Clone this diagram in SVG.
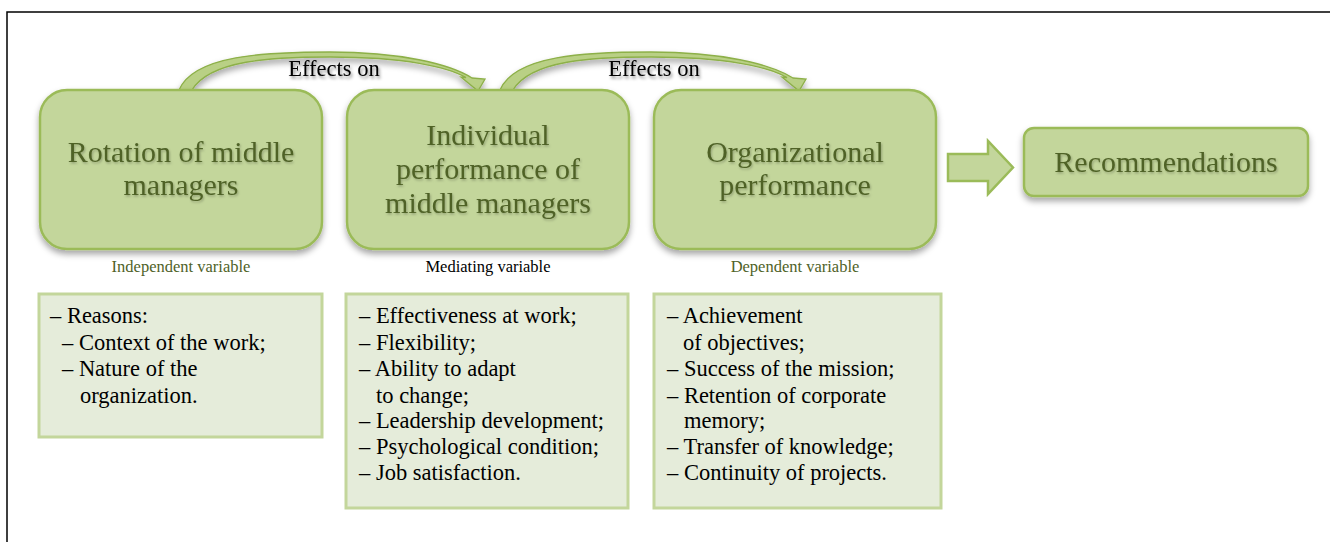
<svg xmlns="http://www.w3.org/2000/svg" width="1330" height="542" viewBox="0 0 1330 542">
<defs>
<filter id="sh" x="-10%" y="-10%" width="120%" height="130%">
<feDropShadow dx="0" dy="4" stdDeviation="3" flood-color="#000" flood-opacity="0.35"/>
</filter>
<filter id="tsh" x="-10%" y="-30%" width="120%" height="170%">
<feDropShadow dx="1.5" dy="2.5" stdDeviation="1.6" flood-color="#000" flood-opacity="0.45"/>
</filter>
<filter id="tsh2" x="-10%" y="-30%" width="120%" height="170%">
<feDropShadow dx="1" dy="1.5" stdDeviation="1" flood-color="#000" flood-opacity="0.25"/>
</filter>
</defs>
<style>
.frame{fill:none;stroke:#000;stroke-width:1.5}
.node{fill:#c3d69b;stroke:#9bbb59;stroke-width:2.5}
.list{fill:#e5ecda;stroke:#c3d69b;stroke-width:3}
.title{font-family:"Liberation Serif","Times New Roman",serif;font-size:30px;fill:#4f6228;text-anchor:middle}
.lbl{font-family:"Liberation Serif","Times New Roman",serif;font-size:16.5px;text-anchor:middle}
.green{fill:#4f6228}
.eff{font-family:"Liberation Serif","Times New Roman",serif;font-size:22.5px;fill:#000;text-anchor:middle}
.item{font-family:"Liberation Serif","Times New Roman",serif;font-size:22.5px;fill:#000}
.carrow{fill:#b9d085;stroke:#8db048;stroke-width:1.3}
.barrow{fill:#c3d69b;stroke:#9bbb59;stroke-width:2.5}
</style>
<rect x="0" y="0" width="1330" height="542" fill="#fff"/>
<rect class="frame" x="7" y="12" width="1400" height="600"/>

<g id="connectors">
<path class="carrow" filter="url(#sh)" d="M179,90 C194,55 265,52 330,52 C400,52 450,64 472,78 L485,79 L478,91 L461,77 L466,77.5 C448,67 405,57 330,57 C272,57 210,60 192,90 Z"/>
<path class="carrow" filter="url(#sh)" transform="translate(321,0)" d="M179,90 C194,55 265,52 330,52 C400,52 450,64 472,78 L485,79 L478,91 L461,77 L466,77.5 C448,67 405,57 330,57 C272,57 210,60 192,90 Z"/>
<text class="eff" x="334" y="76" filter="url(#tsh)">Effects on</text>
<text class="eff" x="654" y="76" filter="url(#tsh)">Effects on</text>
<path class="barrow" d="M948,154 L988,154 L988,141 L1013,167.5 L988,194 L988,181 L948,181 Z"/>
</g>

<g id="node-rotation">
<rect class="node" filter="url(#sh)" x="40" y="90" width="282" height="159" rx="27"/>
<text class="title" filter="url(#tsh2)"><tspan x="181" y="162">Rotation of middle</tspan><tspan x="181" y="195">managers</tspan></text>
<text class="lbl green" x="181" y="272">Independent variable</text>
</g>

<g id="node-individual">
<rect class="node" filter="url(#sh)" x="347" y="90" width="282" height="159" rx="27"/>
<text class="title" filter="url(#tsh2)"><tspan x="488" y="145">Individual</tspan><tspan x="488" y="179">performance of</tspan><tspan x="488" y="213">middle managers</tspan></text>
<text class="lbl" x="488" y="272">Mediating variable</text>
</g>

<g id="node-organizational">
<rect class="node" filter="url(#sh)" x="654" y="90" width="282" height="159" rx="27"/>
<text class="title" filter="url(#tsh2)"><tspan x="795" y="162">Organizational</tspan><tspan x="795" y="195">performance</tspan></text>
<text class="lbl green" x="795" y="272">Dependent variable</text>
</g>

<g id="node-recommendations">
<rect class="node" filter="url(#sh)" x="1024" y="128" width="284" height="68" rx="10"/>
<text class="title" filter="url(#tsh2)" x="1166" y="172">Recommendations</text>
</g>

<g id="list-independent">
<rect class="list" x="39" y="294" width="283" height="143"/>
<text class="item"><tspan x="50" y="323">– Reasons:</tspan><tspan x="62" y="349.5">– Context of the work;</tspan><tspan x="62" y="376">– Nature of the</tspan><tspan x="80" y="402.5">organization.</tspan></text>
</g>

<g id="list-mediating">
<rect class="list" x="346" y="294" width="282" height="214"/>
<text class="item"><tspan x="359" y="323">– Effectiveness at work;</tspan><tspan x="359" y="349.5">– Flexibility;</tspan><tspan x="359" y="376">– Ability to adapt</tspan><tspan x="376" y="402.5">to change;</tspan><tspan x="359" y="428">– Leadership development;</tspan><tspan x="359" y="454">– Psychological condition;</tspan><tspan x="359" y="480">– Job satisfaction.</tspan></text>
</g>

<g id="list-dependent">
<rect class="list" x="654" y="294" width="287" height="214"/>
<text class="item"><tspan x="667" y="323">– Achievement</tspan><tspan x="683" y="349.5">of objectives;</tspan><tspan x="667" y="376">– Success of the mission;</tspan><tspan x="667" y="402.5">– Retention of corporate</tspan><tspan x="684" y="428">memory;</tspan><tspan x="667" y="454">– Transfer of knowledge;</tspan><tspan x="667" y="480">– Continuity of projects.</tspan></text>
</g>
</svg>
